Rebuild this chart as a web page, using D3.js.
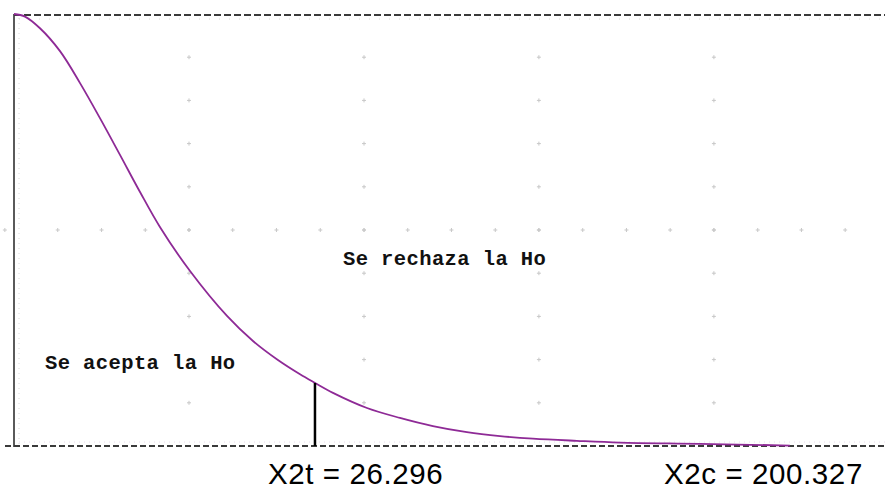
<!DOCTYPE html>
<html>
<head>
<meta charset="utf-8">
<script src="https://cdn.jsdelivr.net/npm/d3@7"></script>
<style>
  html, body { margin: 0; padding: 0; background: #fff; }
  svg { display: block; }
</style>
</head>
<body>
<svg id="chart" width="885" height="491"></svg>
<script>
// ---- data ----
const curveX = [0, 0.96, 2.27, 4.02, 5.77, 7.51, 9.26, 11.01, 12.75, 15.38, 18.61, 20.88, 23.06, 24.99, 26.30, 27.87, 30.84, 33.72, 36.60, 39.57, 42.46, 45.34, 49.18, 52.94, 59.93, 67.79];
const curveY = [1.000, 0.994, 0.967, 0.914, 0.840, 0.759, 0.674, 0.588, 0.507, 0.405, 0.301, 0.243, 0.199, 0.166, 0.146, 0.123, 0.088, 0.065, 0.046, 0.032, 0.023, 0.017, 0.012, 0.008, 0.005, 0.001];
const criticalValue = 26.296;
const criticalLabel = "X2t = 26.296";
const computedLabel = "X2c = 200.327";
const regionLabels = ["Se rechaza la Ho", "Se acepta la Ho"];
const gridColsX = [15.29, 30.58, 45.86, 61.15];
const gridRowsY = [0.1, 0.2, 0.3, 0.4, 0.5, 0.6, 0.7, 0.8, 0.9];
const midRowX = [-0.8, 3.82, 7.65, 11.47, 15.29, 19.11, 22.93, 26.76, 30.58, 34.40, 38.22, 42.05, 45.86, 49.69, 53.51, 57.33, 61.15, 64.98, 68.80, 72.62];

// ---- scales ----
const svg = d3.select("#chart");
const x = d3.scaleLinear().domain([0, 76.1]).range([14, 885]);
const y = d3.scaleLinear().domain([0, 1]).range([446, 14]);

// faint dotted borders inside the frame
svg.append("line").attr("x1", x(0) + 5).attr("x2", x(0) + 5).attr("y1", y(1) + 4).attr("y2", y(0))
  .attr("stroke", "#d8d8d8").attr("stroke-width", 1).attr("stroke-dasharray", "1,4");
svg.append("line").attr("x1", x(0) + 5).attr("x2", 885).attr("y1", y(1) + 5).attr("y2", y(1) + 5)
  .attr("stroke", "#d8d8d8").attr("stroke-width", 1).attr("stroke-dasharray", "1,9");
svg.append("line").attr("x1", x(0) + 5).attr("x2", 885).attr("y1", y(0) - 4).attr("y2", y(0) - 4)
  .attr("stroke", "#eadcee").attr("stroke-width", 1).attr("stroke-dasharray", "1,4");

// grid dots
const gridPts = [];
gridColsX.forEach(gx => gridRowsY.forEach(gy => gridPts.push([gx, gy])));
midRowX.forEach(gx => gridPts.push([gx, 0.5]));
const g = svg.append("g").attr("fill", "#c8c8c8");
g.selectAll("rect.h").data(gridPts).join("rect")
  .attr("x", d => x(d[0]) - 2).attr("y", d => y(d[1]) - 0.5).attr("width", 4).attr("height", 1);
g.selectAll("rect.v").data(gridPts).join("rect")
  .attr("x", d => x(d[0]) - 0.5).attr("y", d => y(d[1]) - 2).attr("width", 1).attr("height", 4);

// frame: left solid axis, top & bottom dashed lines
svg.append("line").attr("x1", x(0)).attr("x2", x(0)).attr("y1", y(1)).attr("y2", y(0) + 1)
  .attr("stroke", "#5a5a5a").attr("stroke-width", 2);
svg.append("line").attr("x1", x(0)).attr("x2", 885).attr("y1", y(1) + 1).attr("y2", y(1) + 1)
  .attr("stroke", "#3a3a3a").attr("stroke-width", 2).attr("stroke-dasharray", "7,3");
svg.append("line").attr("x1", 5).attr("x2", 885).attr("y1", y(0)).attr("y2", y(0))
  .attr("stroke", "#3a3a3a").attr("stroke-width", 2).attr("stroke-dasharray", "6,3");

// curve
const pts = curveX.map((cx, i) => [cx, curveY[i]]);
svg.append("path").datum(pts)
  .attr("d", d3.line().x(d => x(d[0])).y(d => y(d[1])).curve(d3.curveCatmullRom.alpha(0.5)))
  .attr("fill", "none").attr("stroke", "#8e2a96").attr("stroke-width", 1.8);

// critical value line
const critIdx = curveX.findIndex(v => v >= criticalValue);
const critY = curveY[critIdx];
svg.append("line").attr("x1", x(criticalValue)).attr("x2", x(criticalValue))
  .attr("y1", y(critY)).attr("y2", y(0))
  .attr("stroke", "#000").attr("stroke-width", 2.5);

// region labels
const monoFont = "'Liberation Mono', 'Courier New', monospace";
svg.append("text").attr("x", 343).attr("y", 265).text(regionLabels[0])
  .attr("font-family", monoFont).attr("font-size", 20.5)
  .attr("font-weight", "bold").attr("letter-spacing", 0.4).attr("fill", "#111");
svg.append("text").attr("x", 45).attr("y", 369).text(regionLabels[1])
  .attr("font-family", monoFont).attr("font-size", 20.5)
  .attr("font-weight", "bold").attr("letter-spacing", 0.4).attr("fill", "#111");

// bottom labels
const sansFont = "'Liberation Sans', Arial, sans-serif";
svg.append("text").attr("x", 268).attr("y", 484).text(criticalLabel)
  .attr("font-family", sansFont).attr("font-size", 29.5).attr("letter-spacing", 0.6).attr("fill", "#000");
svg.append("text").attr("x", 664).attr("y", 484).text(computedLabel)
  .attr("font-family", sansFont).attr("font-size", 29.5).attr("letter-spacing", 0.6).attr("fill", "#000");
</script>
</body>
</html>
